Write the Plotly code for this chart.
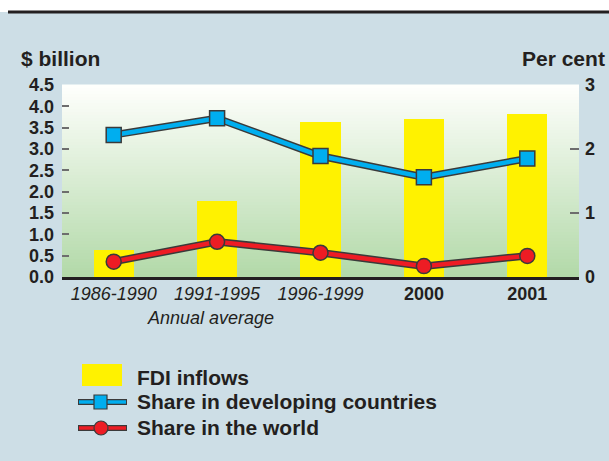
import plotly.graph_objects as go

# ---- data -------------------------------------------------------------
periods = ["1986-1990", "1991-1995", "1996-1999", "2000", "2001"]
period_labels = ["<i>1986-1990</i>", "<i>1991-1995</i>", "<i>1996-1999</i>",
                 "<b>2000</b>", "<b>2001</b>"]
fdi_inflows = [0.63, 1.77, 3.64, 3.71, 3.83]          # $ billion
share_developing = [2.22, 2.48, 1.89, 1.56, 1.85]     # per cent
share_world = [0.24, 0.55, 0.38, 0.17, 0.33]          # per cent

left_ticks = [0, 0.5, 1, 1.5, 2, 2.5, 3, 3.5, 4, 4.5]
right_ticks = [0, 1, 2, 3]

# ---- styling ----------------------------------------------------------
W, H = 609, 461
ML, MR, MT, MB = 62, 30, 85, 184
BG = "#cddee6"
INK = "#231f20"
YELLOW = "#fff200"
BLUE = "#00aeef"
RED = "#ed1c24"
OUTLINE = "#3a3a3a"
FONT = "Liberation Sans, Arial, Helvetica, sans-serif"

PW, PH = W - ML - MR, H - MT - MB


def px(x):
    return (x - ML) / PW


def py(y):
    return (H - MB - y) / PH


fig = go.Figure()

# FDI bars
fig.add_trace(go.Bar(x=periods, y=fdi_inflows, width=0.39,
                     marker=dict(color=YELLOW, line=dict(width=0)),
                     name="FDI inflows", yaxis="y"))

# dark casing under the share lines
for vals in (share_developing, share_world):
    fig.add_trace(go.Scatter(x=periods, y=vals, mode="lines", yaxis="y2",
                             line=dict(color=OUTLINE, width=7.5),
                             hoverinfo="skip", showlegend=False))

fig.add_trace(go.Scatter(x=periods, y=share_developing, mode="lines+markers",
                         yaxis="y2", name="Share in developing countries",
                         line=dict(color=BLUE, width=4.5),
                         marker=dict(symbol="square", size=15, color=BLUE,
                                     line=dict(color=OUTLINE, width=1.5))))
fig.add_trace(go.Scatter(x=periods, y=share_world, mode="lines+markers",
                         yaxis="y2", name="Share in the world",
                         line=dict(color=RED, width=4.5),
                         marker=dict(symbol="circle", size=15, color=RED,
                                     line=dict(color=OUTLINE, width=1.5))))

shapes = []

# vertical gradient in the plotting area: white at top to pale green
top_rgb = (255, 255, 253)
bot_rgb = (178, 217, 168)
N = 64
for i in range(N):
    t = (i + 0.5) / N
    c = tuple(round(bot_rgb[k] + (top_rgb[k] - bot_rgb[k]) * t) for k in range(3))
    shapes.append(dict(type="rect", xref="x domain", yref="y domain",
                       x0=0, x1=1, y0=i / N, y1=(i + 1) / N + 0.002,
                       fillcolor="rgb(%d,%d,%d)" % c, line=dict(width=0),
                       layer="below"))

# white band and rule at the top of the page
shapes.append(dict(type="rect", xref="paper", yref="paper",
                   x0=px(0), x1=px(W), y0=py(12), y1=py(0),
                   fillcolor="white", line=dict(width=0), layer="below"))
shapes.append(dict(type="line", xref="paper", yref="paper",
                   x0=px(8), x1=px(W), y0=py(12), y1=py(12),
                   line=dict(color=INK, width=3)))

# legend keys
shapes.append(dict(type="rect", xref="paper", yref="paper",
                   x0=px(82), x1=px(122), y0=py(386), y1=py(364),
                   fillcolor=YELLOW, line=dict(width=0)))
for yk, col in ((402, BLUE), (428, RED)):
    shapes.append(dict(type="line", xref="paper", yref="paper",
                       x0=px(78), x1=px(127), y0=py(yk), y1=py(yk),
                       line=dict(color=OUTLINE, width=6)))
    shapes.append(dict(type="line", xref="paper", yref="paper",
                       x0=px(79), x1=px(126), y0=py(yk), y1=py(yk),
                       line=dict(color=col, width=3.5)))
shapes.append(dict(type="rect", xref="paper", yref="paper",
                   x0=px(94), x1=px(107), y0=py(409), y1=py(395),
                   fillcolor=BLUE, line=dict(color=OUTLINE, width=1.2)))
shapes.append(dict(type="circle", xref="paper", yref="paper",
                   x0=px(94), x1=px(108), y0=py(435), y1=py(421),
                   fillcolor=RED, line=dict(color=OUTLINE, width=1.2)))

annotations = [
    dict(text="<b>$ billion</b>", x=px(19), y=py(59), xanchor="left",
         yanchor="middle", font=dict(size=21)),
    dict(text="<b>Per cent</b>", x=px(607), y=py(59), xanchor="right",
         yanchor="middle", font=dict(size=21)),
    dict(text="<i>Annual average</i>", x=px(210), y=py(318), xanchor="center",
         yanchor="middle", font=dict(size=18)),
    dict(text="<b>FDI inflows</b>", x=px(135), y=py(377), xanchor="left",
         yanchor="middle", font=dict(size=21)),
    dict(text="<b>Share in developing countries</b>", x=px(135), y=py(401),
         xanchor="left", yanchor="middle", font=dict(size=21)),
    dict(text="<b>Share in the world</b>", x=px(135), y=py(427),
         xanchor="left", yanchor="middle", font=dict(size=21)),
]
for a in annotations:
    a.update(xref="paper", yref="paper", showarrow=False)

fig.update_layout(
    width=W, height=H,
    margin=dict(l=ML, r=MR, t=MT, b=MB, pad=0),
    paper_bgcolor=BG, plot_bgcolor="rgba(0,0,0,0)",
    font=dict(family=FONT, color=INK),
    showlegend=False, bargap=0,
    shapes=shapes, annotations=annotations,
    xaxis=dict(type="category", range=[-0.5, 4.5], tickmode="array",
               tickvals=periods, ticktext=period_labels,
               tickfont=dict(size=18, color=INK), ticks="",
               showgrid=False, zeroline=False,
               showline=True, linecolor=INK, linewidth=3,
               ticklabelstandoff=-2),
    yaxis=dict(range=[0, 4.5], tickmode="array", tickvals=left_ticks,
               ticktext=["<b>%.1f</b>" % v for v in left_ticks],
               ticks="inside", ticklen=7, tickwidth=1.5,
               tickcolor="#6d6d6d", showgrid=False, zeroline=False,
               showline=False, tickfont=dict(size=18, color=INK),
               ticklabelstandoff=7),
    yaxis2=dict(range=[0, 3], overlaying="y", side="right", tickmode="array",
                tickvals=right_ticks,
                ticktext=["<b>%d</b>" % v for v in right_ticks],
                ticks="inside", ticklen=9,
                tickwidth=1.5, tickcolor="#6d6d6d", showgrid=False,
                zeroline=False, showline=False,
                tickfont=dict(size=18, color=INK), ticklabelstandoff=5),
)

fig.write_html("out.html")
